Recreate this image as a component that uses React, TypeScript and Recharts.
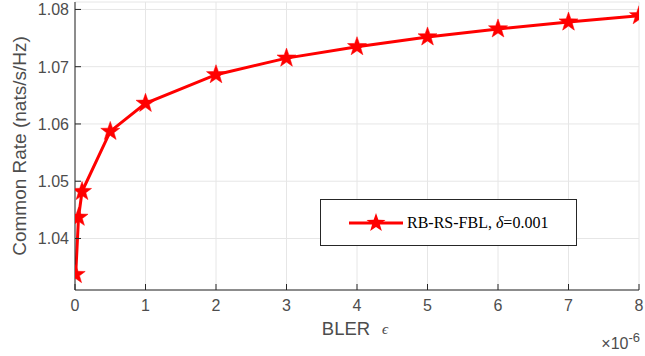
import { LineChart, Line, XAxis, YAxis, CartesianGrid } from "recharts";

// BLER values (x 1e-6)
const bler = [0.01, 0.05, 0.1, 0.5, 1, 2, 3, 4, 5, 6, 7, 8];
// common rate (nats/s/Hz)
const commonRate = [1.0337, 1.0437, 1.0482, 1.0587, 1.0636, 1.0686, 1.0715, 1.0735, 1.0752, 1.0766, 1.0778, 1.0789];

const xTicks = [0, 1, 2, 3, 4, 5, 6, 7, 8];
const yTicks = [1.04, 1.05, 1.06, 1.07, 1.08];

const data = bler.map((x, i) => ({ x, rate: commonRate[i] }));

const AXIS = "#262626";
const TICK_TEXT = "#4d4d4d";
const RED = "#ff0000";
const SANS = "Liberation Sans, Arial, sans-serif";

function starPoints(cx: number, cy: number, r: number, r2: number) {
  const pts: string[] = [];
  for (let i = 0; i < 10; i++) {
    const rad = i % 2 === 0 ? r : r2;
    const a = -Math.PI / 2 + (i * Math.PI) / 5;
    pts.push(`${cx + rad * Math.cos(a)},${cy + rad * Math.sin(a)}`);
  }
  return pts.join(" ");
}

const StarDot = (props: any) => {
  const { cx, cy, index } = props;
  if (cx == null || cy == null) return null;
  return <polygon key={index} points={starPoints(cx, cy, 10, 4)} fill={RED} stroke={RED} strokeWidth={0.5} />;
};

// ticks drawn inward, MATLAB style
const BottomTick = (props: any) => {
  const { x, y, payload } = props;
  return (
    <g>
      <line x1={x} y1={y} x2={x} y2={y - 6} stroke={AXIS} />
      <text x={x} y={y + 21} textAnchor="middle" fill={TICK_TEXT} fontSize={16} fontFamily={SANS}>
        {payload.value}
      </text>
    </g>
  );
};

const TopTick = (props: any) => {
  const { x, y } = props;
  return <line x1={x} y1={y} x2={x} y2={y + 6} stroke={AXIS} />;
};

const LeftTick = (props: any) => {
  const { x, y, payload } = props;
  return (
    <g>
      <line x1={x} y1={y} x2={x + 6} y2={y} stroke={AXIS} />
      <text x={x - 6} y={y + 6} textAnchor="end" fill={TICK_TEXT} fontSize={16} fontFamily={SANS}>
        {payload.value.toFixed(2)}
      </text>
    </g>
  );
};

const RightTick = (props: any) => {
  const { x, y } = props;
  return <line x1={x} y1={y} x2={x - 6} y2={y} stroke={AXIS} />;
};

const LegendBox = () => (
  <div
    style={{
      position: "absolute",
      left: 320,
      top: 199,
      border: "1px solid #262626",
      background: "#fff",
      width: 257,
      height: 47,
      boxSizing: "border-box",
      display: "flex",
      alignItems: "center",
      fontFamily: "Liberation Serif, Times New Roman, serif",
      fontSize: 16,
      color: "#000",
    }}
  >
    <svg width={86} height={24}>
      <line x1={28} y1={12} x2={82} y2={12} stroke={RED} strokeWidth={3} />
      <polygon points={starPoints(55, 12, 10, 4)} fill={RED} />
    </svg>
    <span>
      RB-RS-FBL, <i>δ</i>=0.001
    </span>
  </div>
);

export default function App() {
  return (
    <div style={{ position: "absolute", left: 0, top: 0, width: 645, height: 356, background: "#fff" }}>
      <LineChart width={645} height={356} data={data} margin={{ top: 2, right: 6, left: 0, bottom: 0 }}>
        <CartesianGrid stroke="#e6e6e6" strokeWidth={1} />
        <XAxis
          dataKey="x"
          type="number"
          domain={[0, 8]}
          ticks={xTicks}
          allowDataOverflow
          stroke={AXIS}
          tickSize={0}
          tickMargin={0}
          tick={<BottomTick />}
          height={66}
          interval={0}
        />
        <XAxis
          xAxisId="top"
          orientation="top"
          type="number"
          domain={[0, 8]}
          ticks={xTicks}
          allowDataOverflow
          stroke={AXIS}
          tickSize={0}
          tickMargin={0}
          tick={<TopTick />}
          height={0}
          interval={0}
        />
        <YAxis
          type="number"
          domain={[1.031, 1.0813]}
          ticks={yTicks}
          allowDataOverflow
          stroke={AXIS}
          tickSize={0}
          tickMargin={0}
          tick={<LeftTick />}
          width={75}
          interval={0}
        />
        <YAxis
          yAxisId="right"
          orientation="right"
          type="number"
          domain={[1.031, 1.0813]}
          ticks={yTicks}
          allowDataOverflow
          stroke={AXIS}
          tickSize={0}
          tickMargin={0}
          tick={<RightTick />}
          width={0}
          interval={0}
        />
        <Line
          type="linear"
          dataKey="rate"
          stroke={RED}
          strokeWidth={3}
          dot={<StarDot />}
          activeDot={false}
          isAnimationActive={false}
        />
        <text x={19} y={146} transform="rotate(-90 19 146)" textAnchor="middle" dominantBaseline="central" fill={TICK_TEXT} fontSize={19} fontFamily={SANS}>
          Common Rate (nats/s/Hz)
        </text>
        <text x={346} y={335} textAnchor="middle" fill={TICK_TEXT} fontSize={18.5} fontFamily={SANS}>
          BLER
        </text>
        <text x={385} y={334} textAnchor="middle" fill={TICK_TEXT} fontSize={15} fontStyle="italic" fontFamily="Liberation Serif, serif">
          ϵ
        </text>
        <text x={640} y={349} textAnchor="end" fill={TICK_TEXT} fontSize={16} fontFamily={SANS}>
          ×10
          <tspan dy={-7} fontSize={13}>-6</tspan>
        </text>
      </LineChart>
      <LegendBox />
    </div>
  );
}
